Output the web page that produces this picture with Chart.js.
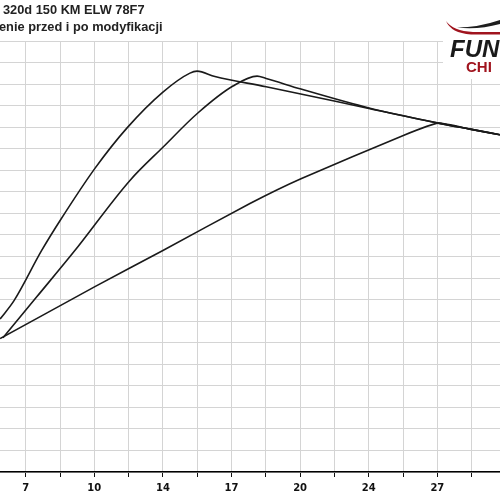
<!DOCTYPE html>
<html><head><meta charset="utf-8">
<script src="https://cdn.jsdelivr.net/npm/chart.js@4"></script>
<style>
html,body{margin:0;padding:0;background:#fff;}
#wrap{position:relative;width:500px;height:500px;overflow:hidden;background:#fff;}
canvas{position:absolute;left:0;top:0;}
#ov{position:absolute;left:0;top:0;}
</style></head><body>
<div id="wrap">
<canvas id="c" width="500" height="500"></canvas>
<svg id="ov" width="500" height="500" xmlns="http://www.w3.org/2000/svg">
  <text x="3" y="14" font-family="Liberation Sans, Arial, sans-serif" font-weight="bold" font-size="12.8" fill="#222">320d 150 KM ELW 78F7</text>
  <text x="-1" y="30.7" font-family="Liberation Sans, Arial, sans-serif" font-weight="bold" font-size="12.8" fill="#222">enie przed i po modyfikacji</text>
  <rect x="443" y="0" width="57" height="79" fill="#fff"/>
  <path d="M446,21 Q453,31 473,32 L500,32 L500,34.5 L471,34.5 Q451,33 446,21 Z" fill="#a0141e"/>
  <path d="M457,27.5 Q478,27.5 500,20 L500,24 Q478,30 457,27.5 Z" fill="#1e1e1e"/>
  <text x="450" y="57" font-family="Liberation Sans, Arial, sans-serif" font-weight="bold" font-style="italic" font-size="24" fill="#1a1a1a">FUN</text>
  <text x="466" y="72" font-family="Liberation Sans, Arial, sans-serif" font-weight="bold" font-size="15" fill="#a0141e">CHI</text>
</svg>
</div>
<script>
// x-axis tick labels (every second grid line) and grid line positions in axis units
const tickLabels = ['7', '10', '14', '17', '20', '24', '27'];
const gridValues = [6.9, 8.575, 10.25, 11.925, 13.6, 15.275, 16.95, 18.625, 20.3, 21.975, 23.65, 25.325, 27.0, 28.675];

// Curve A (highest, earliest peak)
const xA = [5.65, 6.33, 7.68, 8.58, 10.28, 11.85, 13.6, 14.92, 15.27, 16.14, 18.64, 23.71, 27.04, 28.6, 30.06];
const yA = [71.0, 79.5, 102.8, 116.7, 140.9, 159.7, 176.3, 185.1, 186.0, 183.5, 178.8, 168.6, 161.9, 159.1, 156.5];

// Curve B (middle, later peak)
const xB = [5.79, 7.45, 9.26, 11.99, 13.6, 15.32, 17.02, 18.2, 18.64, 20.34, 23.71, 27.04, 28.6, 30.06];
const yB = [62.3, 81.4, 102.3, 135.3, 150.7, 166.7, 179.1, 183.7, 182.6, 177.7, 168.8, 161.9, 159.1, 156.5];

// Curve C (near-linear)
const xC = [5.65, 10.28, 13.6, 17.85, 20.34, 25.37, 27.04, 28.6, 30.06];
const yC = [61.9, 86.0, 102.8, 124.6, 136.1, 156.3, 161.9, 159.1, 156.5];

function pts(xs, ys) { return xs.map((x, i) => ({ x: x, y: ys[i] })); }

const lineStyle = { borderColor: '#1a1a1a', borderWidth: 1.6, pointRadius: 0, fill: false };

new Chart(document.getElementById('c'), {
  type: 'line',
  data: {
    datasets: [
      Object.assign({ label: 'A', data: pts(xA, yA), cubicInterpolationMode: 'monotone' }, lineStyle),
      Object.assign({ label: 'B', data: pts(xB, yB), cubicInterpolationMode: 'monotone' }, lineStyle),
      Object.assign({ label: 'C', data: pts(xC, yC), tension: 0.15 }, lineStyle)
    ]
  },
  options: {
    responsive: false,
    animation: false,
    layout: { padding: { top: 41, bottom: 1, left: 0, right: 0 } },
    plugins: { legend: { display: false }, title: { display: false }, tooltip: { enabled: false } },
    scales: {
      x: {
        type: 'linear',
        min: 5.645,
        max: 30.06,
        afterBuildTicks: (s) => { s.ticks = gridValues.map(v => ({ value: v })); },
        ticks: {
          autoSkip: false, maxRotation: 0, padding: 5, color: '#111',
          font: { family: 'DejaVu Sans', size: 10, weight: 'bold' },
          callback: (v, i) => (i % 2 === 0 && tickLabels[i / 2] !== undefined) ? tickLabels[i / 2] : ''
        },
        grid: { color: '#d4d4d4', lineWidth: 1, tickColor: '#111', tickLength: 5, drawTicks: true },
        border: { display: true, color: '#000', width: 1.5 }
      },
      y: {
        min: 0,
        max: 200,
        ticks: { display: false, stepSize: 10 },
        grid: { color: '#d4d4d4', lineWidth: 1, drawTicks: false },
        border: { display: false }
      }
    }
  }
});
</script>
</body></html>
